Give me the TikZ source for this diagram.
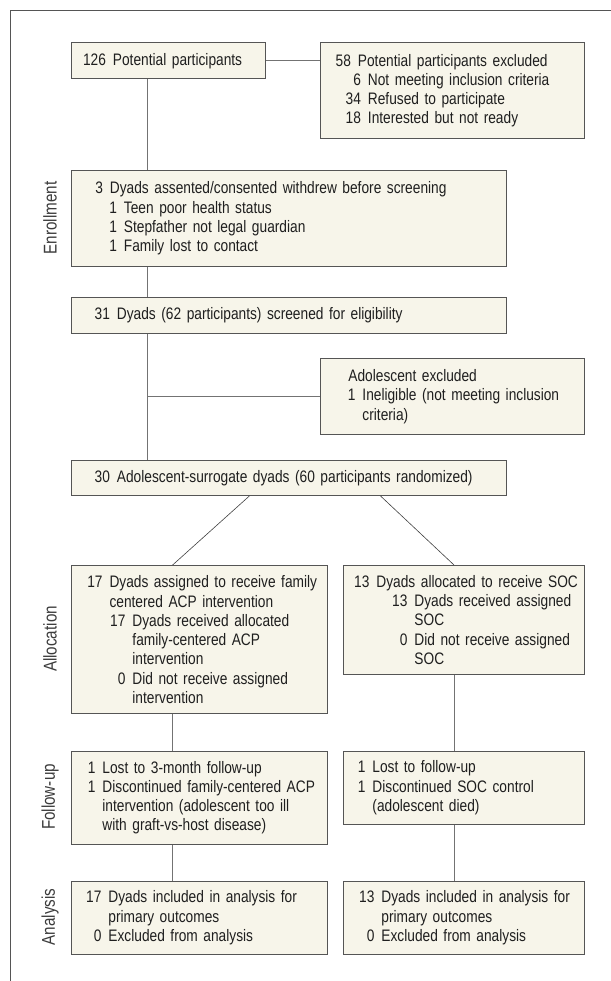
\documentclass[tikz,border=0pt]{standalone}
\usepackage{fontspec}
\setmainfont{Liberation Sans}[FakeStretch=0.825]

\definecolor{boxfill}{RGB}{247,245,234}
\definecolor{boxline}{RGB}{85,85,85}
\definecolor{linkgray}{RGB}{115,115,115}
\definecolor{labelgray}{RGB}{60,60,60}

% one line of a box: number ending at #1, text after a small gap
\newcommand{\ent}[3]{\hspace*{#1bp}\makebox[0pt][r]{#2}\hspace{7bp}#3}
\newcommand{\boxfont}{\fontsize{16.7}{19.3}\selectfont\color{black!88}}
\newcommand{\phasefont}{\fontsize{18.5}{20}\selectfont}

\tikzset{
  box/.style={draw=boxline, fill=boxfill, line width=0.9bp, anchor=north west,
    inner sep=0pt, align=left, font=\boxfont},
  link/.style={draw=linkgray, line width=0.9bp},
  split/.style={draw=black!75, line width=0.6bp},
  phase/.style={rotate=90, font=\phasefont, text=labelgray, inner sep=0pt},
}

\begin{document}
\begin{tikzpicture}[x=1bp, y=-1bp]
\useasboundingbox (0,0) rectangle (611,981);

% frame
\draw[boxline, line width=0.9bp] (10.5,981) -- (10.5,10.7) -- (611,10.7);

% columns of the connectors
\coordinate (trunk) at (147.7,0);
\coordinate (lcol) at (172.6,0);
\coordinate (rcol) at (454,0);

% enrollment
\node[box, text width=194.1bp, minimum height=36bp] (pot) at (70.9,42.3)
  {\ent{34.6}{126}{Potential participants}};
\node[box, text width=264.2bp, minimum height=96bp] (excl) at (319.6,42.3)
  {\ent{30.9}{58}{Potential participants excluded}\\
   \ent{40.9}{6}{Not meeting inclusion criteria}\\
   \ent{40.9}{34}{Refused to participate}\\
   \ent{40.9}{18}{Interested but not ready}};
\node[box, text width=434.6bp, minimum height=96bp] (withdrew) at (70.9,170)
  {\ent{31.6}{3}{Dyads assented/consented withdrew before screening}\\
   \ent{45.6}{1}{Teen poor health status}\\
   \ent{45.6}{1}{Stepfather not legal guardian}\\
   \ent{45.6}{1}{Family lost to contact}};
\node[box, text width=434.6bp, minimum height=36bp] (screened) at (70.9,296.7)
  {\ent{38.6}{31}{Dyads (62 participants) screened for eligibility}};
\node[box, text width=264.2bp, minimum height=75.7bp] (inelig) at (319.6,358.3)
  {\hspace*{28.4bp}Adolescent excluded\\
   \ent{35.4}{1}{Ineligible (not meeting inclusion}\\
   \ent{35.4}{}{criteria)}};
\node[box, text width=434.6bp, minimum height=35bp] (random) at (70.9,460)
  {\ent{38.6}{30}{Adolescent-surrogate dyads (60 participants randomized)}};

% allocation
\node[box, text width=256.5bp, minimum height=148.3bp] (acp) at (70.9,565)
  {\ent{31.2}{17}{Dyads assigned to receive family}\\
   \ent{31.2}{}{centered ACP intervention}\\
   \ent{54.1}{17}{Dyads received allocated}\\
   \ent{54.1}{}{family-centered ACP}\\
   \ent{54.1}{}{intervention}\\
   \ent{54.1}{0}{Did not receive assigned}\\
   \ent{54.1}{}{intervention}};
\node[box, text width=240.5bp, minimum height=109bp] (soc) at (343.3,565)
  {\ent{25.7}{13}{Dyads allocated to receive SOC}\\
   \ent{63.7}{13}{Dyads received assigned}\\
   \ent{63.7}{}{SOC}\\
   \ent{63.7}{0}{Did not receive assigned}\\
   \ent{63.7}{}{SOC}};

% follow-up
\node[box, text width=256.5bp, minimum height=93.3bp] (acpfu) at (70.9,750.7)
  {\ent{24.1}{1}{Lost to 3-month follow-up}\\
   \ent{24.1}{1}{Discontinued family-centered ACP}\\
   \ent{24.1}{}{intervention (adolescent too ill}\\
   \ent{24.1}{}{with graft-vs-host disease)}};
\node[box, text width=240.5bp, minimum height=73.3bp] (socfu) at (343.3,750.7)
  {\ent{21.7}{1}{Lost to follow-up}\\
   \ent{21.7}{1}{Discontinued SOC control}\\
   \ent{21.7}{}{(adolescent died)}};

% analysis
\node[box, text width=256.5bp, minimum height=73.3bp] (acpan) at (70.9,880.7)
  {\ent{30.1}{17}{Dyads included in analysis for}\\
   \ent{30.1}{}{primary outcomes}\\
   \ent{30.1}{0}{Excluded from analysis}};
\node[box, text width=240.5bp, minimum height=73.3bp] (socan) at (343.3,880.7)
  {\ent{30.7}{13}{Dyads included in analysis for}\\
   \ent{30.7}{}{primary outcomes}\\
   \ent{30.7}{0}{Excluded from analysis}};

% phase labels
\node[phase] (enroll) at (50,218) {Enrollment};
\node[phase] (alloc) at (50,639) {Allocation};
\node[phase] (follow) at (50,797) {Follow-up};
\node[phase] (analys) at (50,917) {Analysis};

% connectors
\draw[link] (pot.east) -- (pot.east -| excl.west);
\draw[link] (pot.south -| trunk) -- (withdrew.north -| trunk);
\draw[link] (withdrew.south -| trunk) -- (screened.north -| trunk);
\draw[link] (screened.south -| trunk) -- (random.north -| trunk);
\draw[link] (inelig.west) -- (inelig.west -| trunk);
\draw[split] ([xshift=-39.2bp]random.south) -- (acp.north -| lcol);
\draw[split] ([xshift=91.8bp]random.south) -- (soc.north -| rcol);
\draw[link] (acp.south -| lcol) -- (acpfu.north -| lcol);
\draw[link] (acpfu.south -| lcol) -- (acpan.north -| lcol);
\draw[link] (soc.south -| rcol) -- (socfu.north -| rcol);
\draw[link] (socfu.south -| rcol) -- (socan.north -| rcol);
\end{tikzpicture}
\end{document}
